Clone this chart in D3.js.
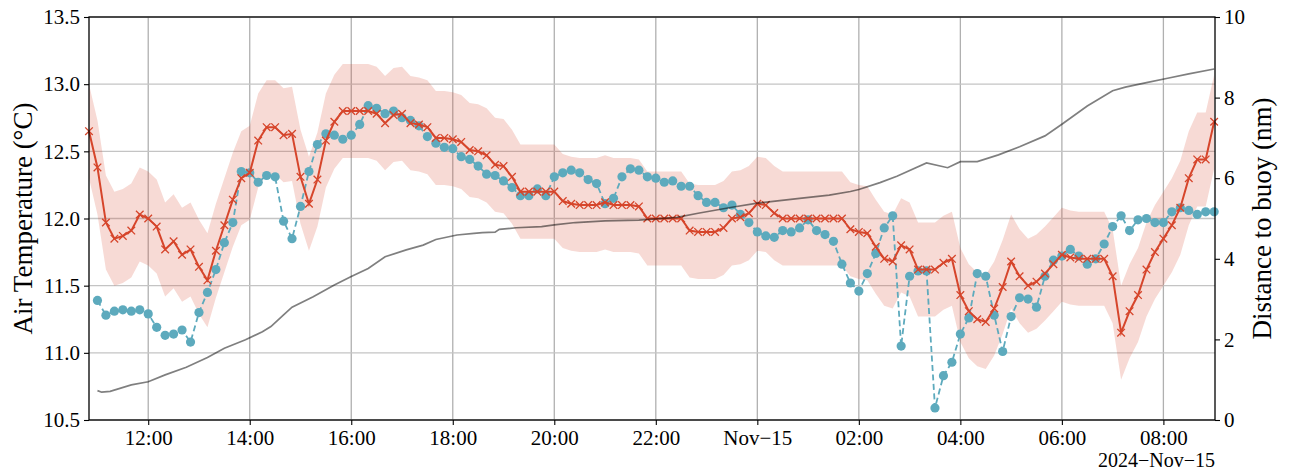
<!DOCTYPE html>
<html>
<head>
<meta charset="utf-8">
<script src="https://cdn.jsdelivr.net/npm/d3@7"></script>
<style>
  body { margin: 0; background: #fff; }
  text { font-family: "Liberation Serif", "DejaVu Serif", serif; }
</style>
</head>
<body>
<div class="container"></div>
<script>
// 10 minute samples, first one at 10:50 on Nov 14
const startTime = new Date(2024, 10, 14, 10, 50)
const stepMinutes = 10

// forecast / model air temperature (red, x markers)
const airTemp = [
  12.65, 12.38, 11.97, 11.85, 11.87, 11.91, 12.03, 12.00, 11.94, 11.77,
  11.83, 11.73, 11.77, 11.64, 11.54, 11.76, 11.95, 12.14, 12.30, 12.34,
  12.58, 12.68, 12.68, 12.62, 12.63, 12.31, 12.11, 12.29, 12.58, 12.72,
  12.80, 12.80, 12.80, 12.80, 12.78, 12.71, 12.77, 12.78, 12.71, 12.70,
  12.68, 12.60, 12.60, 12.59, 12.57, 12.51, 12.50, 12.47, 12.40, 12.39,
  12.31, 12.20, 12.20, 12.20, 12.20, 12.20, 12.13, 12.11, 12.10, 12.10,
  12.10, 12.12, 12.10, 12.10, 12.10, 12.09, 12.00, 12.00, 12.00, 12.00,
  12.00, 11.91, 11.90, 11.90, 11.90, 11.93, 12.00, 12.01, 12.04, 12.11,
  12.10, 12.04, 12.00, 12.00, 12.00, 12.00, 12.00, 12.00, 12.00, 12.00,
  11.92, 11.90, 11.89, 11.79, 11.70, 11.68, 11.80, 11.77, 11.62, 11.62,
  11.62, 11.67, 11.70, 11.43, 11.31, 11.25, 11.23, 11.33, 11.49, 11.68,
  11.57, 11.50, 11.53, 11.59, 11.66, 11.73, 11.71, 11.70, 11.70, 11.70,
  11.70, 11.57, 11.15, 11.31, 11.43, 11.62, 11.75, 11.85, 11.95, 12.08,
  12.30, 12.44, 12.44, 12.72
]
// half width of the shaded band round the red line
const bandHalf = 0.35

// measured air temperature (blue, dots), starts at 11:00
const buoyTemp = [
  null,  11.39, 11.28, 11.31, 11.32, 11.31, 11.32, 11.29, 11.19, 11.13,
  11.14, 11.17, 11.08, 11.30, 11.45, 11.62, 11.82, 11.97, 12.35, 12.34,
  12.27, 12.32, 12.31, 11.98, 11.85, 12.09, 12.35, 12.55, 12.63, 12.62,
  12.59, 12.62, 12.70, 12.84, 12.82, 12.78, 12.80, 12.75, 12.73, 12.69,
  12.61, 12.56, 12.53, 12.52, 12.46, 12.44, 12.39, 12.33, 12.32, 12.28,
  12.23, 12.17, 12.17, 12.22, 12.17, 12.31, 12.34, 12.36, 12.34, 12.29,
  12.26, 12.11, 12.15, 12.31, 12.37, 12.36, 12.31, 12.30, 12.27, 12.28,
  12.24, 12.24, 12.17, 12.12, 12.12, 12.08, 12.10, 12.03, 11.97, 11.90,
  11.87, 11.86, 11.91, 11.90, 11.93, 11.99, 11.91, 11.88, 11.83, 11.66,
  11.52, 11.46, 11.59, 11.74, 11.93, 12.02, 11.05, 11.57, 11.61, 11.61,
  10.59, 10.83, 10.93, 11.14, 11.26, 11.59, 11.57, 11.28, 11.01, 11.27,
  11.41, 11.40, 11.34, 11.57, 11.69, 11.72, 11.77, 11.72, 11.66, 11.70,
  11.81, 11.94, 12.02, 11.91, 11.99, 12.00, 11.97, 11.97, 12.05, 12.08,
  12.06, 12.03, 12.05, 12.05
]

// distance to buoy (grey, right axis)
const distTimes = [
  '2024-11-14 11:00', '2024-11-14 11:05', '2024-11-14 11:15', '2024-11-14 11:40',
  '2024-11-14 12:00', '2024-11-14 12:20', '2024-11-14 12:45', '2024-11-14 13:10',
  '2024-11-14 13:30', '2024-11-14 13:55', '2024-11-14 14:15', '2024-11-14 14:25',
  '2024-11-14 14:40', '2024-11-14 14:50', '2024-11-14 15:15', '2024-11-14 15:40',
  '2024-11-14 16:00', '2024-11-14 16:20', '2024-11-14 16:40', '2024-11-14 17:05',
  '2024-11-14 17:25', '2024-11-14 17:40', '2024-11-14 18:05', '2024-11-14 18:25',
  '2024-11-14 18:35', '2024-11-14 18:50', '2024-11-14 18:55', '2024-11-14 19:15',
  '2024-11-14 19:45', '2024-11-14 20:00', '2024-11-14 20:25', '2024-11-14 21:00',
  '2024-11-14 21:40', '2024-11-14 22:25', '2024-11-14 22:50', '2024-11-14 23:30',
  '2024-11-15 00:00', '2024-11-15 00:50', '2024-11-15 01:25', '2024-11-15 01:50',
  '2024-11-15 02:00', '2024-11-15 02:25', '2024-11-15 02:45', '2024-11-15 03:20',
  '2024-11-15 03:45', '2024-11-15 04:00', '2024-11-15 04:20', '2024-11-15 04:45',
  '2024-11-15 05:10', '2024-11-15 05:40', '2024-11-15 06:00', '2024-11-15 06:30',
  '2024-11-15 07:00', '2024-11-15 07:15', '2024-11-15 07:40', '2024-11-15 08:05',
  '2024-11-15 08:30', '2024-11-15 09:00'
]
const distValues = [
  0.73, 0.69, 0.71, 0.87, 0.95, 1.12, 1.31, 1.55, 1.78, 1.99,
  2.19, 2.32, 2.61, 2.80, 3.06, 3.35, 3.56, 3.76, 4.05, 4.22,
  4.34, 4.48, 4.59, 4.63, 4.65, 4.66, 4.73, 4.77, 4.80, 4.84,
  4.90, 4.94, 4.96, 5.03, 5.13, 5.28, 5.38, 5.50, 5.58, 5.67,
  5.72, 5.89, 6.05, 6.38, 6.26, 6.41, 6.41, 6.58, 6.78, 7.05,
  7.34, 7.79, 8.17, 8.26, 8.37, 8.48, 8.59, 8.71
]

const tempTicks = [10.5, 11.0, 11.5, 12.0, 12.5, 13.0, 13.5]
const distTicks = [0, 2, 4, 6, 8, 10]

const red = '#d6452b'
const blue = '#5daabd'

const W = 1290, H = 475
const margin = {top: 17, left: 89, right: 75, bottom: 55}
const width = W - margin.left - margin.right
const height = H - margin.top - margin.bottom

const parseTime = d3.timeParse('%Y-%m-%d %H:%M')
const times = airTemp.map((d, i) => d3.timeMinute.offset(startTime, i * stepMinutes))

const tempData = airTemp.map((v, i) => ({t: times[i], v}))
const buoyData = buoyTemp.map((v, i) => ({t: times[i], v}))
const distData = distTimes.map((s, i) => ({t: parseTime(s), v: distValues[i]}))

const svg = d3.select('.container')
    .append('svg')
    .attr('width', W)
    .attr('height', H)
    .append('g')
    .attr('transform', `translate(${margin.left}, ${margin.top})`)

const xScale = d3.scaleTime()
    .domain([startTime, new Date(2024, 10, 15, 9, 1)])
    .range([0, width])
const yScale = d3.scaleLinear().domain([10.5, 13.5]).range([height, 0])
const y2Scale = d3.scaleLinear().domain([0, 10]).range([height, 0])

const xTicks = xScale.ticks(d3.timeHour.every(2))
const fmtHM = d3.timeFormat('%H:%M')
const xFormat = d => d.getHours() === 0 ? 'Nov\u221215' : fmtHM(d)

// grid
svg.append('g')
    .selectAll('line.vx')
    .data(xTicks)
    .join('line')
    .attr('x1', d => xScale(d)).attr('x2', d => xScale(d))
    .attr('y1', 0).attr('y2', height)
    .attr('stroke', '#b0b0b0').attr('stroke-width', 1.3)
svg.append('g')
    .selectAll('line.hy')
    .data(tempTicks)
    .join('line')
    .attr('x1', 0).attr('x2', width)
    .attr('y1', d => yScale(d)).attr('y2', d => yScale(d))
    .attr('stroke', '#c4c4c4').attr('stroke-width', 1.3)

const plot = svg.append('g')

// shaded band
plot.append('path')
    .datum(tempData)
    .attr('fill', red)
    .attr('fill-opacity', 0.2)
    .attr('d', d3.area()
        .x(d => xScale(d.t))
        .y0(d => yScale(d.v - bandHalf))
        .y1(d => yScale(d.v + bandHalf)))

// blue measured series
plot.append('path')
    .datum(buoyData)
    .attr('fill', 'none')
    .attr('stroke', blue)
    .attr('stroke-width', 1.8)
    .attr('stroke-dasharray', '6,3.5')
    .attr('d', d3.line().defined(d => d.v != null).x(d => xScale(d.t)).y(d => yScale(d.v)))
plot.append('g')
    .selectAll('circle')
    .data(buoyData.filter(d => d.v != null))
    .join('circle')
    .attr('cx', d => xScale(d.t))
    .attr('cy', d => yScale(d.v))
    .attr('r', 4.6)
    .attr('fill', blue)

// red series
plot.append('path')
    .datum(tempData)
    .attr('fill', 'none')
    .attr('stroke', red)
    .attr('stroke-width', 2)
    .attr('d', d3.line().x(d => xScale(d.t)).y(d => yScale(d.v)))
plot.append('g')
    .selectAll('path')
    .data(tempData)
    .join('path')
    .attr('transform', d => `translate(${xScale(d.t)},${yScale(d.v)})`)
    .attr('d', 'M-3.8,-3.8L3.8,3.8M-3.8,3.8L3.8,-3.8')
    .attr('stroke', red)
    .attr('stroke-width', 1.3)

// distance line on the right axis
plot.append('path')
    .datum(distData)
    .attr('fill', 'none')
    .attr('stroke', '#000')
    .attr('stroke-opacity', 0.5)
    .attr('stroke-width', 1.7)
    .attr('d', d3.line().x(d => xScale(d.t)).y(d => y2Scale(d.v)))

// axes
const styleAxis = g => {
    g.select('.domain').remove()
    g.selectAll('.tick line').attr('stroke', '#000').attr('stroke-width', 1.1)
    g.selectAll('.tick text').attr('fill', '#000').style('font-size', '21px')
        .style('font-family', '"Liberation Serif", serif')
}

svg.append('g')
    .attr('transform', `translate(0, ${height})`)
    .call(d3.axisBottom(xScale).tickValues(xTicks).tickFormat(xFormat).tickSize(5).tickPadding(5))
    .call(styleAxis)

svg.append('g')
    .call(d3.axisLeft(yScale).tickValues(tempTicks).tickFormat(d3.format('.1f')).tickSize(5).tickPadding(4))
    .call(styleAxis)

svg.append('g')
    .attr('transform', `translate(${width}, 0)`)
    .call(d3.axisRight(y2Scale).tickValues(distTicks).tickFormat(d3.format('d')).tickSize(5).tickPadding(4))
    .call(styleAxis)

// frame
svg.append('rect')
    .attr('width', width).attr('height', height)
    .attr('fill', 'none').attr('stroke', '#000').attr('stroke-width', 1.3)

// labels
svg.append('text')
    .attr('transform', `translate(${32 - margin.left}, ${height / 2}) rotate(-90)`)
    .attr('text-anchor', 'middle')
    .style('font-size', '27px')
    .text('Air Temperature (\u00b0C)')

svg.append('text')
    .attr('transform', `translate(${1271 - margin.left}, ${height / 2}) rotate(-90)`)
    .attr('text-anchor', 'middle')
    .style('font-size', '27px')
    .text('Distance to buoy (nm)')

svg.append('text')
    .attr('x', width)
    .attr('y', 467 - margin.top)
    .attr('text-anchor', 'end')
    .style('font-size', '20px')
    .text('2024\u2212Nov\u221215')
</script>
</body>
</html>
